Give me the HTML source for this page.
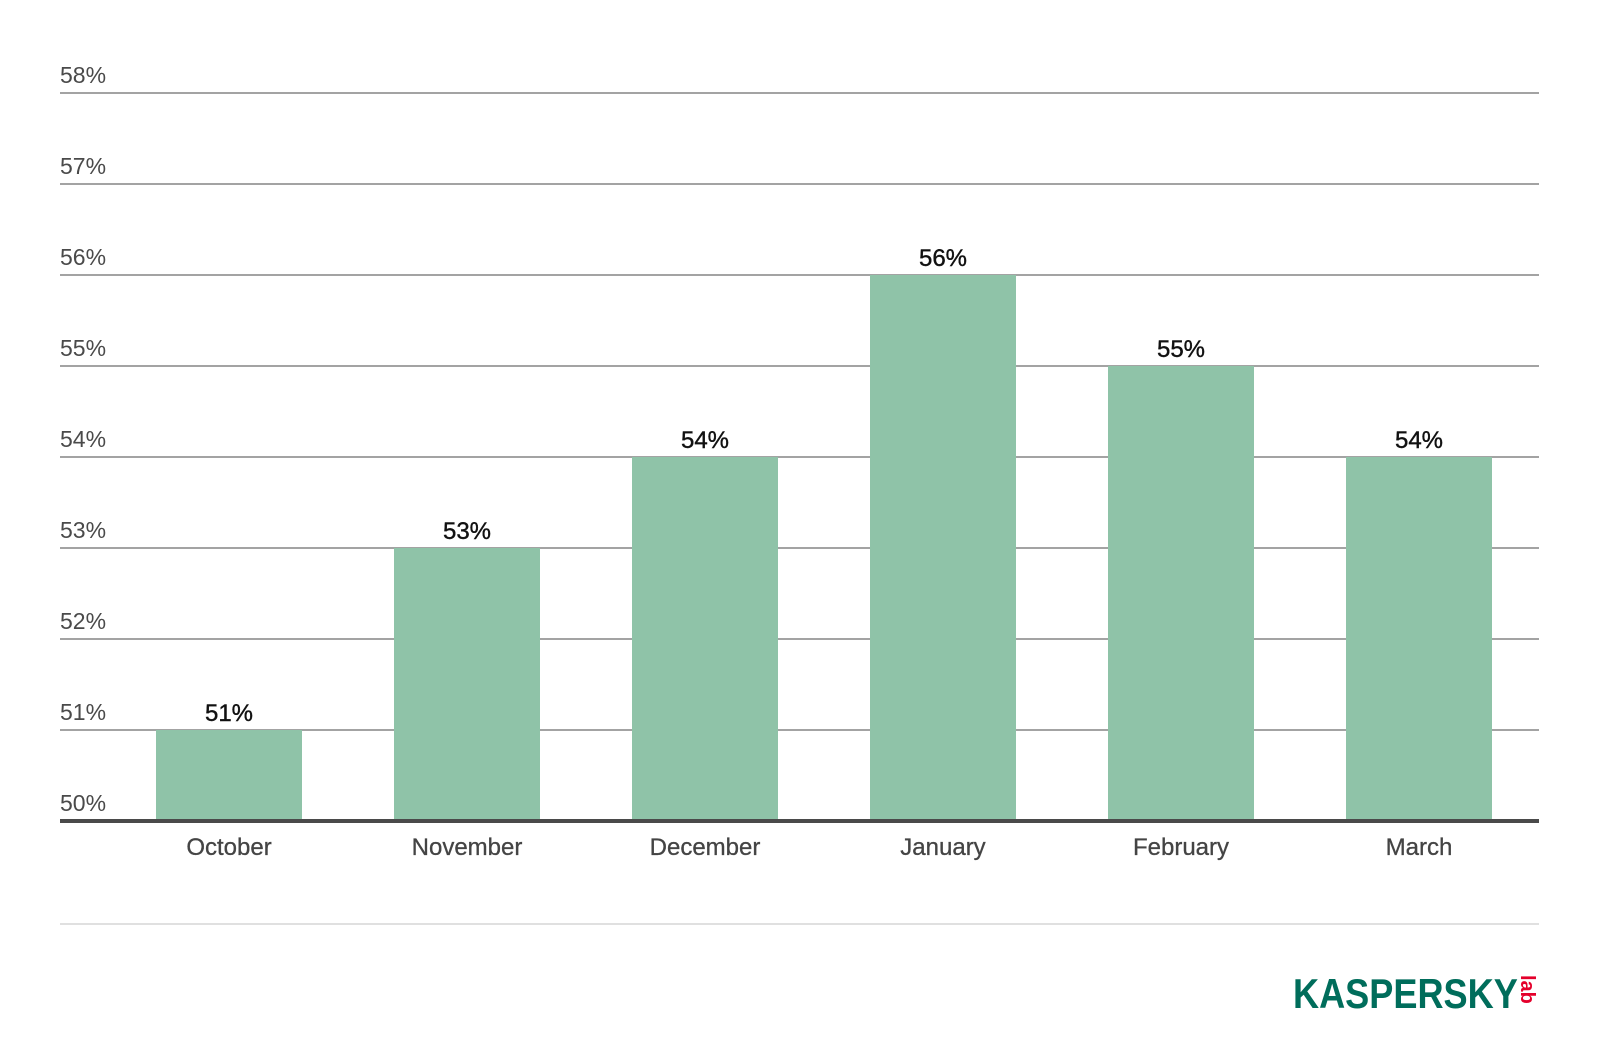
<!DOCTYPE html>
<html><head><style>
body{margin:0;background:#fff;width:1600px;height:1056px;overflow:hidden;position:relative;font-family:"Liberation Sans",Arial,sans-serif}
.g{position:absolute;left:60px;width:1479px;height:2px;background:#a3a3a3}
.yl{position:absolute;left:60px;font-size:23px;color:#4a4a4a}
.bar{position:absolute;width:146px;background:#8fc3a8}
.v{position:absolute;width:146px;text-align:center;font-size:24px;color:#111;-webkit-text-stroke:0.4px #111}
.m{position:absolute;width:240px;text-align:center;font-size:24px;color:#444;top:834px;-webkit-text-stroke:0.3px #444}
</style></head><body>
<div class="g" style="top:92px"></div><div class="yl" style="top:62px">58%</div>
<div class="g" style="top:183px"></div><div class="yl" style="top:153px">57%</div>
<div class="g" style="top:274px"></div><div class="yl" style="top:244px">56%</div>
<div class="g" style="top:365px"></div><div class="yl" style="top:335px">55%</div>
<div class="g" style="top:456px"></div><div class="yl" style="top:426px">54%</div>
<div class="g" style="top:547px"></div><div class="yl" style="top:517px">53%</div>
<div class="g" style="top:638px"></div><div class="yl" style="top:608px">52%</div>
<div class="g" style="top:729px"></div><div class="yl" style="top:699px">51%</div>
<div class="yl" style="top:790px">50%</div>

<div class="bar" style="left:156px;top:730px;height:91px"></div><div class="v" style="left:156px;top:700px">51%</div>
<div class="bar" style="left:394px;top:548px;height:273px"></div><div class="v" style="left:394px;top:518px">53%</div>
<div class="bar" style="left:632px;top:457px;height:364px"></div><div class="v" style="left:632px;top:427px">54%</div>
<div class="bar" style="left:870px;top:275px;height:546px"></div><div class="v" style="left:870px;top:245px">56%</div>
<div class="bar" style="left:1108px;top:366px;height:455px"></div><div class="v" style="left:1108px;top:336px">55%</div>
<div class="bar" style="left:1346px;top:457px;height:364px"></div><div class="v" style="left:1346px;top:427px">54%</div>

<div class="m" style="left:109px">October</div>
<div class="m" style="left:347px">November</div>
<div class="m" style="left:585px">December</div>
<div class="m" style="left:823px">January</div>
<div class="m" style="left:1061px">February</div>
<div class="m" style="left:1299px">March</div>

<div style="position:absolute;left:60px;top:819px;width:1479px;height:4px;background:#4a4a4a"></div>
<div style="position:absolute;left:60px;top:923px;width:1479px;height:2px;background:#e0e0e0"></div>
<div style="position:absolute;left:1293px;top:970px;font-size:42px;font-weight:bold;color:#006d5b;transform:scaleX(0.86);transform-origin:left;white-space:nowrap">KASPERSKY</div>
<div style="position:absolute;left:1516px;top:975px;font-size:20px;line-height:22px;color:#e4002b;writing-mode:vertical-rl;font-weight:bold">lab</div>
</body></html>
